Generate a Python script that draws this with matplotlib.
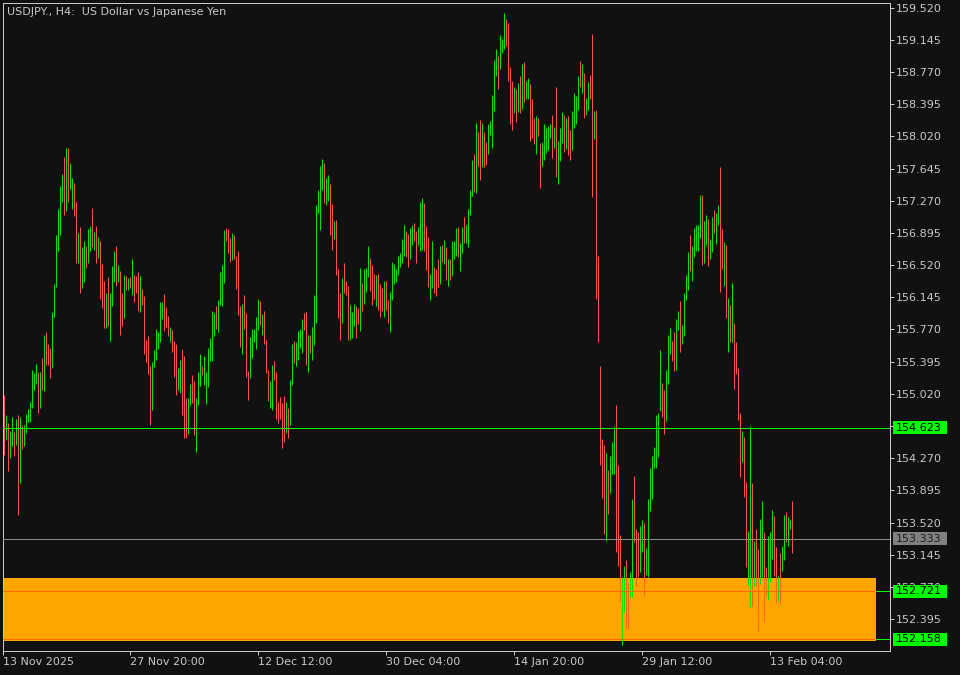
import matplotlib
matplotlib.use("Agg")
import matplotlib.pyplot as plt
from matplotlib.patches import Rectangle
import numpy as np

# ---------------- data (USDJPY H4 bars) ----------------
highs = [
    155.01,154.77,154.68,154.59,154.75,154.58,154.73,154.77,154.75,154.66,
    154.66,154.79,154.84,154.92,155.30,155.26,155.37,155.28,155.27,155.44,
    155.70,155.74,155.60,155.55,155.97,156.30,156.87,157.18,157.44,157.58,
    157.78,157.88,157.89,157.71,157.54,157.48,157.25,156.90,156.97,156.73,
    156.80,156.74,156.94,156.98,157.19,156.91,156.98,156.85,156.80,156.53,
    156.34,156.19,156.38,156.19,156.51,156.69,156.74,156.52,156.45,156.19,
    156.40,156.39,156.37,156.38,156.59,156.41,156.39,156.44,156.39,156.24,
    156.16,155.65,155.69,155.34,155.39,155.53,155.77,155.74,156.09,156.09,
    156.18,156.03,155.93,155.80,155.76,155.64,155.60,155.32,155.41,155.54,
    155.46,154.97,154.97,155.14,155.24,155.17,154.97,155.27,155.49,155.35,
    155.46,155.27,155.55,155.67,155.99,155.96,156.04,156.11,156.44,156.52,
    156.93,156.95,156.94,156.84,156.89,156.87,156.63,156.68,156.04,156.07,
    156.17,155.96,155.29,155.68,155.77,155.77,155.91,156.13,156.10,155.95,
    155.99,155.65,155.30,155.17,155.36,155.40,155.27,154.92,154.98,154.91,
    155.00,154.92,154.85,155.18,155.60,155.64,155.63,155.75,155.77,155.89,
    155.96,155.97,155.71,155.71,155.80,156.17,157.22,157.40,157.67,157.76,
    157.71,157.53,157.57,157.46,157.23,157.04,157.05,156.48,156.19,156.37,
    156.54,156.34,156.28,156.06,155.97,156.07,156.04,156.02,156.49,156.31,
    156.47,156.49,156.74,156.60,156.52,156.42,156.40,156.42,156.30,156.25,
    156.33,156.34,156.11,156.21,156.56,156.53,156.47,156.63,156.66,156.83,
    156.99,156.92,156.88,156.95,156.99,157.01,156.92,156.96,157.25,157.30,
    157.24,156.98,156.85,156.42,156.80,156.50,156.48,156.59,156.74,156.75,
    156.81,156.73,156.59,156.59,156.80,156.80,156.95,156.96,156.78,156.96,
    157.08,156.99,157.17,157.39,157.74,157.81,158.18,158.07,158.21,158.18,
    158.07,157.96,158.17,158.20,158.50,158.91,159.04,158.96,159.20,159.16,
    159.46,159.39,159.34,158.83,158.67,158.60,158.57,158.64,158.73,158.86,
    158.89,158.67,158.70,158.63,158.46,158.23,158.26,158.24,157.94,157.96,
    158.17,158.12,158.14,158.16,158.27,158.13,158.60,157.97,158.12,158.30,
    158.27,158.23,158.26,158.09,158.32,158.53,158.49,158.73,158.90,158.86,
    158.76,158.47,158.66,158.74,159.21,158.32,158.33,156.63,155.35,154.49,
    154.42,154.33,154.13,154.29,154.46,154.65,154.89,154.19,153.38,152.89,
    153.01,153.08,152.82,152.94,153.79,154.06,153.44,153.41,153.48,153.55,
    153.52,153.22,153.79,154.15,154.29,154.40,154.77,154.80,155.53,155.15,
    155.07,155.30,155.71,155.79,155.64,155.74,155.89,155.99,156.10,155.82,
    156.19,156.40,156.67,156.87,156.74,156.95,156.99,156.99,157.34,157.34,
    157.03,157.10,157.06,156.83,157.08,157.16,157.13,157.22,157.66,156.94,
    156.79,156.75,156.14,156.05,156.31,155.84,155.63,155.32,154.80,154.59,
    154.52,153.99,153.42,154.65,153.98,153.31,153.45,153.21,153.56,153.77,
    153.41,153.00,153.36,153.41,153.67,153.60,153.23,152.90,153.16,153.25,
    153.61,153.64,153.58,153.55,153.77,
]
lows = [
    154.31,154.48,154.12,154.27,154.41,154.30,154.42,153.61,153.98,154.38,
    154.41,154.56,154.69,154.69,154.86,155.06,155.13,154.80,154.86,155.06,
    155.05,155.36,155.36,155.20,155.32,155.92,156.26,156.68,156.87,157.25,
    157.10,157.15,157.25,157.41,157.18,157.09,156.55,156.55,156.19,156.25,
    156.32,156.49,156.54,156.69,156.73,156.70,156.54,156.60,156.13,156.02,
    155.79,155.79,155.81,155.64,156.04,156.32,156.28,156.32,155.71,155.81,
    155.90,156.23,156.23,156.25,156.17,156.09,156.20,155.99,155.97,156.05,
    155.48,155.39,155.25,154.66,154.83,155.33,155.41,155.54,155.63,155.89,
    155.75,155.80,155.69,155.62,155.51,155.22,155.01,155.06,155.03,154.77,
    154.51,154.51,154.55,154.89,154.91,154.54,154.34,154.89,155.11,155.24,
    155.12,154.90,155.10,155.40,155.40,155.69,155.77,155.74,156.05,156.04,
    156.31,156.80,156.66,156.56,156.58,156.59,156.24,155.94,155.57,155.48,
    155.78,155.22,154.95,155.20,155.44,155.62,155.54,155.76,155.82,155.71,
    155.60,155.26,154.94,154.85,154.83,155.18,154.73,154.68,154.73,154.39,
    154.46,154.56,154.50,154.66,155.12,155.38,155.35,155.41,155.56,155.50,
    155.76,155.36,155.27,155.50,155.42,155.59,155.85,157.13,156.93,157.40,
    157.24,157.22,157.27,156.87,156.70,156.83,156.41,155.90,155.65,155.85,
    156.20,156.17,155.65,155.65,155.67,155.81,155.67,155.83,155.75,155.98,
    156.07,156.21,156.38,156.22,156.05,156.13,156.04,156.00,155.91,155.98,
    155.91,156.00,155.85,155.74,156.11,156.30,156.32,156.41,156.50,156.54,
    156.63,156.61,156.50,156.59,156.76,156.80,156.55,156.75,156.69,156.70,
    156.68,156.46,156.26,156.11,156.25,156.20,156.16,156.27,156.30,156.56,
    156.53,156.35,156.28,156.35,156.39,156.59,156.63,156.62,156.45,156.66,
    156.78,156.78,156.73,157.11,157.33,157.37,157.36,157.68,157.51,157.66,
    157.66,157.69,157.82,158.04,157.88,158.32,158.73,158.57,158.80,158.99,
    159.04,159.07,158.67,158.16,158.09,158.29,158.19,158.30,158.29,158.34,
    158.42,158.46,158.46,157.97,158.00,157.93,157.82,158.03,157.42,157.67,
    157.74,157.83,157.86,158.00,157.77,157.89,157.55,157.46,157.73,157.94,
    157.84,157.87,157.80,157.74,157.86,158.12,158.16,158.33,158.60,158.53,
    158.23,158.27,158.33,158.46,157.31,157.99,156.13,155.62,154.19,153.81,
    153.39,153.31,153.62,153.86,154.09,154.09,153.18,153.01,152.61,152.09,
    152.48,152.28,152.28,152.65,152.65,153.29,152.78,152.89,152.94,153.18,
    152.68,152.91,152.88,153.65,153.80,154.16,154.16,154.28,154.82,154.75,
    154.55,154.70,155.14,155.49,155.40,155.29,155.30,155.76,155.51,155.60,
    155.69,156.11,156.23,156.45,156.34,156.62,156.69,156.68,156.84,156.52,
    156.54,156.76,156.51,156.59,156.67,156.89,156.77,156.99,156.21,156.48,
    156.28,155.90,155.51,155.63,155.63,155.08,155.25,154.72,154.05,154.23,
    153.82,153.00,152.79,152.54,152.55,152.78,152.79,152.26,152.80,152.89,
    152.37,152.66,152.62,152.83,153.10,152.90,152.59,152.61,152.57,152.96,
    153.08,153.29,153.25,153.45,153.16,
]
# g = bullish bar, r = bearish bar
directions = "".join([
    "rgrggrgrgr", "gggggggrgr", "grrrgggggg", "rgrggrrgrg", "grggrgrgrr",
    "rgrgggrgrr", "grgrgrrrgr", "rrrrgggggg", "rrrgrrrggr", "rrggrrgggr",
    "ggggggrggg", "grrrgrrrrg", "rrrgggggrg", "rrrggrrrrr", "rgrggrgggg",
    "rrgrgggggg", "rggrrgrrrg", "rrrgggrrgr", "gggrrrgrrr", "grrggggggg",
    "grrggrrggg", "rrrggrrrgr", "grgrgggrgg", "rggggrgrrg", "rrgggggrgg",
    "grrrrgrgrg", "rggrrrgrrg", "ggggrgrggg", "rgrrggggrg", "rggrrgrrrr",
    "rgrgggrrrg", "grrggrrrgg", "rggggggggr", "rgggrrggrg", "gggrgggggr",
    "ggrggrggrr", "grgrgrrrrg", "rrggrgrrgg", "rrgggrrgrg", "grggr",
])

date_labels = ["13 Nov 2025", "27 Nov 20:00", "12 Dec 12:00", "30 Dec 04:00",
               "14 Jan 20:00", "29 Jan 12:00", "13 Feb 04:00"]
date_bars = [-0.5, 63, 127, 191, 255, 319, 383]

level_main = 154.623
level_bid = 153.333
zone_levels = [152.721, 152.158]
zone_top, zone_bottom = 152.868, 152.142
zone_end_bar = 436

price_ticks = [round(159.520 - 0.375 * k, 3) for k in range(20)]

# ---------------- style ----------------
BG = "#111111"
TXT = "#C8C8C8"
GREEN = "#00E600"
LIME = "#00FF00"
RED = "#FF5050"
RED_IN = "#FF6A00"
ORANGE = "#FFA500"
GRAY = "#8C8C8C"
PX = 0.72  # one pixel in points at dpi 100

plt.rcParams["font.family"] = ["DejaVu Sans"]

fig = plt.figure(figsize=(9.6, 6.75), dpi=100, facecolor=BG)
ax = fig.add_axes([3 / 960, 24 / 675, 887 / 960, 648 / 675])
ax.set_facecolor(BG)
ax.set_xlim(-0.5, 443.0)
ax.set_ylim(152.023, 159.575)

h = np.array(highs)
l = np.array(lows)
x = np.arange(len(h))
up = np.array([c == "g" for c in directions])

# support zone
zone = Rectangle((-0.5, zone_bottom), zone_end_bar + 0.5, zone_top - zone_bottom,
                 facecolor=ORANGE, edgecolor="none", zorder=1)
ax.add_patch(zone)

# bars (one pixel wide, as on the terminal at this zoom)
ax.vlines(x[up], l[up], h[up], colors=GREEN, linewidth=PX, zorder=3)
ax.vlines(x[~up], l[~up], h[~up], colors=RED, linewidth=PX, zorder=3)
red_in = ax.vlines(x[~up], l[~up], h[~up], colors=RED_IN, linewidth=PX, zorder=3.2)
red_in.set_clip_path(zone)

# level lines
ax.axhline(level_main, color=LIME, linewidth=PX, zorder=4)
ax.axhline(level_bid, color=GRAY, linewidth=PX, zorder=4)
for lv in zone_levels:
    ax.axhline(lv, color=LIME, linewidth=PX, zorder=4)
    ax.hlines(lv, -0.5, zone_end_bar, color=RED_IN, linewidth=PX, zorder=4.2)

# spines and ticks
for s in ax.spines.values():
    s.set_color(TXT)
    s.set_linewidth(PX)

ax.yaxis.tick_right()
ax.set_yticks(price_ticks)
ax.set_yticklabels([f"{p:.3f}" for p in price_ticks])
ax.tick_params(axis="y", which="both", right=True, left=False, direction="out",
               length=2.9, width=PX, color=TXT, labelcolor=TXT, labelsize=8, pad=1.4)

ax.set_xticks(date_bars)
ax.set_xticklabels(date_labels, ha="left")
ax.tick_params(axis="x", direction="out", length=2.9, width=PX, color=TXT,
               labelcolor=TXT, labelsize=8, pad=1.2)

# price labels on the right scale
tr = ax.get_yaxis_transform()
box_x0 = (893 - 3) / 887
box_w = 54 / 887
box_hh = 6.5 / 85.8
txt_x = (896 - 3) / 887


def price_box(price, fc, tc):
    ax.add_patch(Rectangle((box_x0, price - box_hh), box_w, 2 * box_hh, transform=tr,
                           facecolor=fc, edgecolor="none", clip_on=False, zorder=10))
    ax.text(txt_x, price, f"{price:.3f}", transform=tr, color=tc, fontsize=8,
            va="center", ha="left", clip_on=False, zorder=11)


price_box(level_main, LIME, "#000000")
price_box(level_bid, "#808080", "#1E1E1E")
for lv in zone_levels:
    price_box(lv, LIME, "#000000")

fig.text(7 / 960, 1 - 12 / 675, "USDJPY., H4:  US Dollar vs Japanese Yen",
         color=TXT, fontsize=8, va="center", ha="left")

fig.savefig("out.png", dpi=100, facecolor=BG)
